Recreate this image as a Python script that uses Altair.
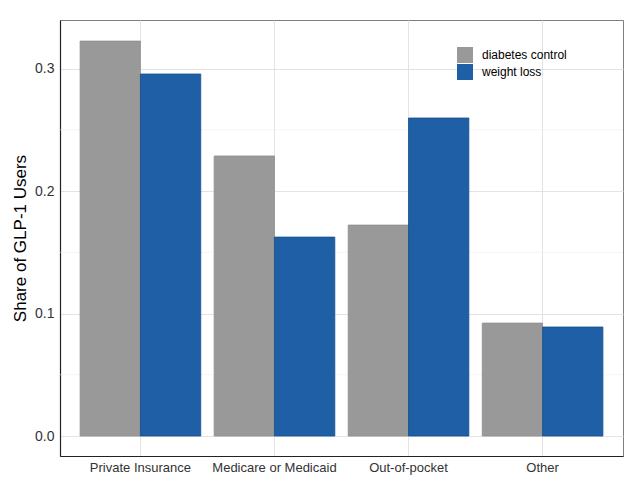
import altair as alt
import pandas as pd

# Payment source categories and share of GLP-1 users per reason for use
categories = ["Private Insurance", "Medicare or Medicaid", "Out-of-pocket", "Other"]
diabetes_control = [0.3224, 0.2286, 0.1722, 0.0922]
weight_loss = [0.2955, 0.1624, 0.2596, 0.0890]
groups = ["diabetes control", "weight loss"]
y_ticks = [0.0, 0.1, 0.2, 0.3]
y_minor = [0.05, 0.15, 0.25]

rows = []
for i, cat in enumerate(categories):
    rows.append({"payer": cat, "purpose": groups[0], "share": diabetes_control[i]})
    rows.append({"payer": cat, "purpose": groups[1], "share": weight_loss[i]})
df = pd.DataFrame(rows)
minor_df = pd.DataFrame({"share": y_minor})

y_scale = alt.Scale(domain=[-0.0163, 0.3396], nice=False, zero=False)
x_scale = alt.Scale(domain=categories, paddingInner=0.1, paddingOuter=0.15)

y_axis = alt.Axis(
    title="Share of GLP-1 Users",
    titleFontSize=17,
    titleFontWeight="normal",
    titleColor="#000000",
    titlePadding=5,
    values=y_ticks,
    format=".1f",
    labelFontSize=14,
    labelColor="#333333",
    labelPadding=6,
    ticks=False,
    domain=True,
    domainColor="#222222",
    domainWidth=1.2,
    grid=True,
    gridColor="#e3e3e3",
    gridWidth=1,
)

# minor horizontal grid lines halfway between the labelled ticks
minor = alt.Chart(minor_df).mark_rule(color="#ececec", strokeWidth=0.6).encode(
    y=alt.Y("share:Q", scale=y_scale, axis=y_axis)
)

bars = alt.Chart(df).mark_bar(strokeWidth=0.8).encode(
    x=alt.X(
        "payer:N",
        scale=x_scale,
        sort=categories,
        axis=alt.Axis(
            title=None,
            labelAngle=0,
            labelFontSize=13,
            labelColor="#333333",
            labelPadding=5,
            ticks=False,
            domain=True,
            domainColor="#222222",
            domainWidth=1.2,
            grid=True,
            gridColor="#e3e3e3",
            gridWidth=1,
            bandPosition=0.5,
        ),
    ),
    xOffset=alt.XOffset("purpose:N", sort=groups, scale=alt.Scale(paddingInner=0)),
    y=alt.Y("share:Q", scale=y_scale, axis=y_axis),
    color=alt.Color(
        "purpose:N",
        sort=groups,
        scale=alt.Scale(domain=groups, range=["#999999", "#1f5fa5"]),
        legend=alt.Legend(
            title=None,
            orient="none",
            legendX=397,
            legendY=27,
            symbolType="square",
            symbolSize=256,
            symbolStrokeWidth=0,
            labelFontSize=12,
            labelColor="#000000",
            rowPadding=1,
            labelOffset=9,
        ),
    ),
    stroke=alt.Stroke(
        "purpose:N",
        sort=groups,
        scale=alt.Scale(domain=groups, range=["#8f8f8f", "#164e8c"]),
        legend=None,
    ),
)

chart = (
    alt.layer(minor, bars)
    .properties(
        width=563,
        height=436,
        autosize=alt.AutoSizeParams(type="none"),
        padding={"left": 60, "top": 20, "right": 17, "bottom": 27},
        background="white",
    )
    .configure_view(stroke="#7f7f7f", strokeWidth=1)
    .configure_axis(labelFont="Liberation Sans", titleFont="Liberation Sans")
    .configure_legend(labelFont="Liberation Sans")
)

chart.save("out.html", embed_options={"renderer": "svg", "actions": False})
